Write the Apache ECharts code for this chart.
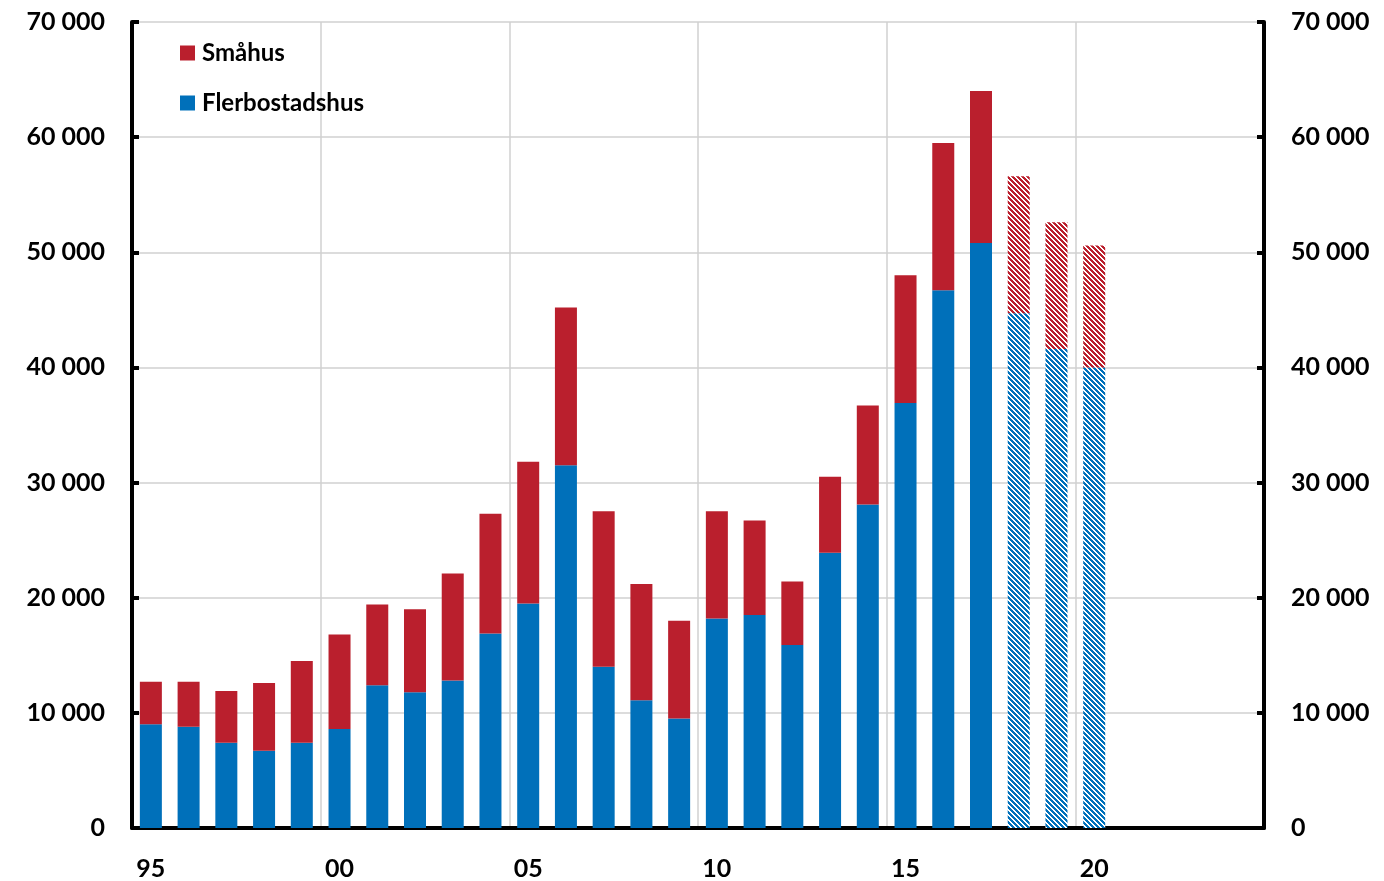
<!DOCTYPE html>
<html>
<head>
<meta charset="utf-8">
<script src="https://cdn.jsdelivr.net/npm/echarts@6/dist/echarts.min.js"></script>
<style>
  html, body { margin: 0; padding: 0; background: #fff; }
  #chart { width: 1384px; height: 881px; }
</style>
</head>
<body>
<div id="chart"></div>
<script>
// Years 1995-2024, labels every fifth year
const years = [];
for (let y = 1995; y <= 2024; y++) years.push(String(y).slice(2));

// Completed dwellings (totals and flerbostadshus), 1995-2020; 2018-2020 are forecasts
const totals = [12700, 12700, 11900, 12600, 14500, 16800, 19400, 19000, 22100, 27300,
  31800, 45200, 27500, 21200, 18000, 27500, 26700, 21400, 30500, 36700,
  48000, 59500, 64000, 56600, 52600, 50600];
const flerbostadshus = [9000, 8800, 7400, 6700, 7400, 8600, 12400, 11800, 12800, 16900,
  19500, 31500, 14000, 11100, 9500, 18200, 18500, 15900, 23900, 28100,
  36900, 46700, 50800, 44700, 41600, 40000];
const smahus = totals.map((t, i) => t - flerbostadshus[i]);
const firstForecast = 23; // index of 2018

const RED = '#BA1F2D';
const BLUE = '#0070BA';
const FONT = 'Lato';

// Diagonal hatch used for the forecast years
const hatch = (color) => {
  const n = 5;
  const c = document.createElement('canvas');
  c.width = n; c.height = n;
  const ctx = c.getContext('2d');
  ctx.fillStyle = '#fff';
  ctx.fillRect(0, 0, n, n);
  ctx.fillStyle = color;
  for (let y = 0; y < n; y++) {
    for (let x = 0; x < n; x++) {
      const d = ((x - y) % n + n) % n;
      if (d < 3) ctx.fillRect(x, y, 1, 1);
    }
  }
  return { image: c, repeat: 'repeat' };
};

const toData = (values, color) => values.map((v, i) => (
  i >= firstForecast ? { value: v, itemStyle: { color: hatch(color) } } : v
));

const chart = echarts.init(document.getElementById('chart'));

const yAxisBase = {
  type: 'value',
  min: 0,
  max: 70000,
  interval: 10000,
  axisLine: { show: true, lineStyle: { color: '#000', width: 4 } },
  axisTick: { show: true, inside: true, length: 7, lineStyle: { color: '#000', width: 4 } },
  axisLabel: {
    color: '#000', fontFamily: FONT, fontWeight: 'bold', fontSize: 25, margin: 27,
    formatter: v => v === 0 ? '0' : (v / 1000) + ' 000'
  }
};

chart.setOption({
  animation: false,
  backgroundColor: '#fff',
  grid: { left: 132, right: 120, top: 22, bottom: 53, containLabel: false },
  legend: {
    orient: 'vertical',
    left: 180,
    top: 38,
    padding: 0,
    itemWidth: 15,
    itemHeight: 15,
    itemGap: 20,
    icon: 'rect',
    data: ['Småhus', 'Flerbostadshus'],
    textStyle: {
      color: '#000', fontFamily: FONT, fontWeight: 'bold', fontSize: 24,
      lineHeight: 30, padding: [0, 0, 0, 2]
    }
  },
  xAxis: {
    type: 'category',
    data: years,
    axisLine: { lineStyle: { color: '#000', width: 4 } },
    axisTick: { inside: true, length: 7, interval: 4, lineStyle: { color: '#000', width: 4 } },
    axisLabel: {
      interval: 4, margin: 28, color: '#000',
      fontFamily: FONT, fontWeight: 'bold', fontSize: 25
    },
    splitLine: { show: true, interval: 4, lineStyle: { color: '#d0d0d0', width: 1.5 } }
  },
  yAxis: [
    Object.assign({}, yAxisBase, {
      position: 'left',
      splitLine: { show: true, lineStyle: { color: '#d0d0d0', width: 1.5 } }
    }),
    Object.assign({}, yAxisBase, {
      position: 'right',
      splitLine: { show: false }
    })
  ],
  series: [
    {
      name: 'Flerbostadshus',
      type: 'bar',
      stack: 'total',
      barWidth: 22,
      itemStyle: { color: BLUE },
      data: toData(flerbostadshus, BLUE)
    },
    {
      name: 'Småhus',
      type: 'bar',
      stack: 'total',
      barWidth: 22,
      itemStyle: { color: RED },
      data: toData(smahus, RED)
    }
  ]
});
</script>
</body>
</html>
